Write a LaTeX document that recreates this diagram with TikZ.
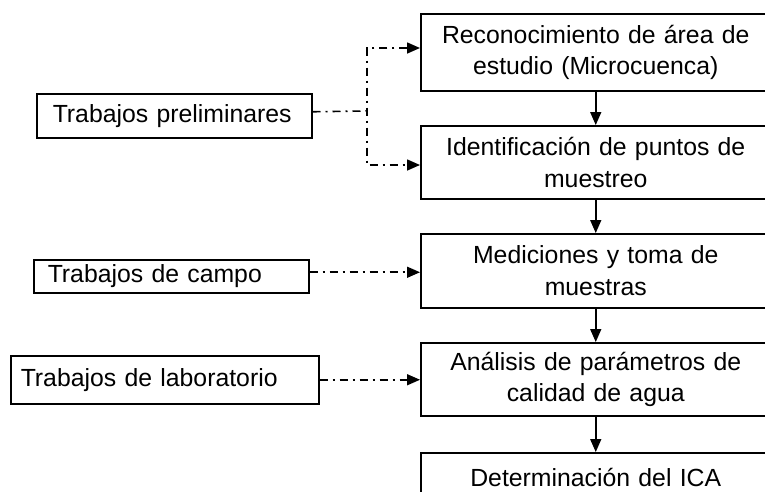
\documentclass[tikz,border=0pt]{standalone}
\usepackage{fontspec}
\setmainfont{Liberation Sans}
\usetikzlibrary{arrows.meta,calc}
\begin{document}
\begin{tikzpicture}[x=1pt,y=-1pt,
  every node/.style={font=\fontsize{24.8}{31.5}\selectfont},
  rbox/.style={draw, line width=1.5pt, minimum width=350pt, minimum height=#1,
    text width=340pt, align=center, inner sep=0pt, anchor=north west},
  lbox/.style={draw, line width=1.5pt, anchor=north west, align=left, inner ysep=0pt},
  sarr/.style={line width=1.6pt, -{Triangle[length=13pt,width=11pt]}},
  dd/.style={line width=1.6pt, dash pattern=on 8pt off 5pt on 2pt off 5pt},
  ddarr/.style={dd, -{Triangle[length=13pt,width=11pt]}}]
\useasboundingbox (0,0) rectangle (765,491);
\clip (0,0) rectangle (765,491);
% right column
\node[rbox=77pt] (b1) at (420,13) {Reconocimiento de área de\\estudio (Microcuenca)};
\node[rbox=73pt] (b2) at (420,125) {Identificación de puntos de\\muestreo};
\node[rbox=74pt] (b3) at (420,233) {Mediciones y toma de\\muestras};
\node[rbox=73pt] (b4) at (420,342) {Análisis de parámetros de\\calidad de agua};
\node[rbox=50pt] (b5) at (420,452) {Determinación del ICA};
\draw[sarr] (b1.south) -- (b2.north);
\draw[sarr] (b2.south) -- (b3.north);
\draw[sarr] (b3.south) -- (b4.north);
\draw[sarr] (b4.south) -- (b5.north);
% left column
\node[lbox, minimum height=44pt, text width=243pt, inner xsep=16pt] (p) at (36,93) {Trabajos preliminares};
\node[lbox, minimum height=33pt, text width=247pt, inner xsep=14pt] (c) at (33,259) {Trabajos de campo};
\node[lbox, minimum height=48pt, text width=288pt, inner xsep=10pt] (l) at (10,355) {Trabajos de laboratorio};
% connectors
\coordinate (jm) at (367,111);
\coordinate (jt) at (367,48);
\coordinate (jb) at (367,165);
\draw[dd] ($(p.east)+(0,-4)$) -- (jm);
\draw[dd, {Triangle[length=13pt,width=11pt]}-{Triangle[length=13pt,width=11pt]}]
  (jt -| b1.west) -- (jt) -- (jb) -- (jb -| b2.west);
\draw[ddarr] ($(c.east)+(0,-4)$) -- ($(c.east -| b3.west)+(0,-4)$);
\draw[ddarr] (l.east) -- (l.east -| b4.west);
\end{tikzpicture}
\end{document}
